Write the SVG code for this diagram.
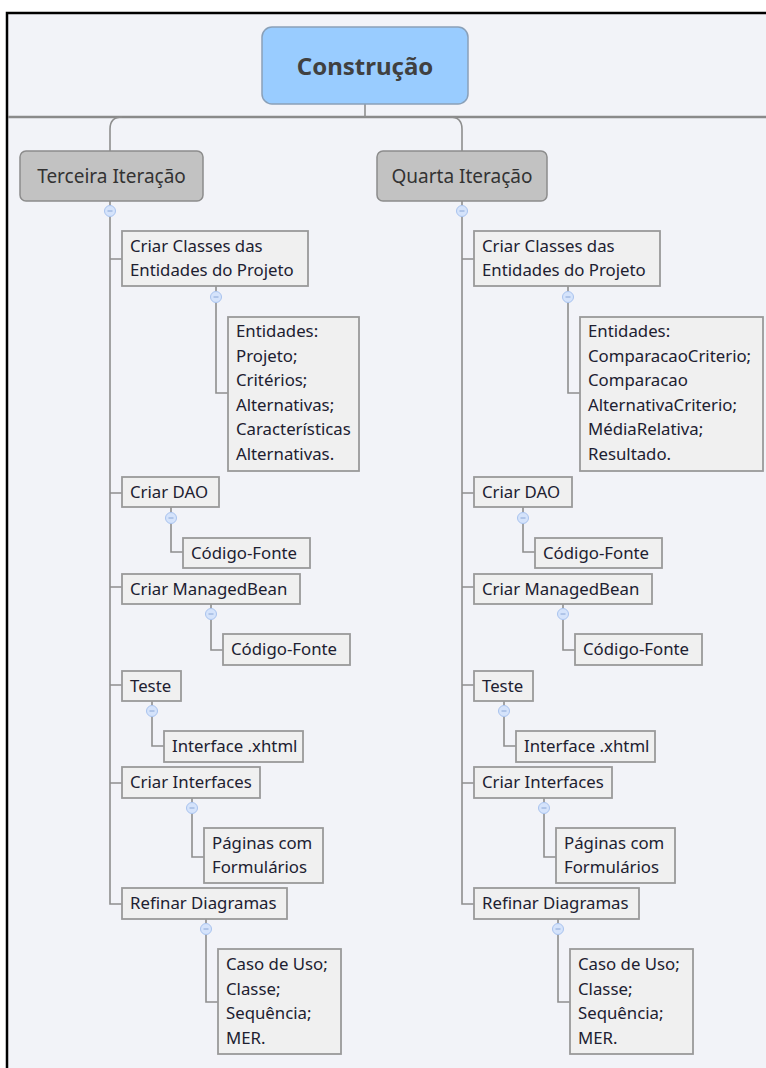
<svg xmlns="http://www.w3.org/2000/svg" xmlns:xlink="http://www.w3.org/1999/xlink" width="766" height="1068" viewBox="0 0 766 1068">
  <style>
    .canvas { fill: #f2f3f8; }
    .frame { fill: none; stroke: #000; stroke-width: 2.5; }
    .conn { fill: none; stroke: #8e8e8e; stroke-width: 1.6; }
    .band { fill: none; stroke: #8a8a8a; stroke-width: 2.4; }
    .root { fill: #99ccff; stroke: #8aa0b8; stroke-width: 1.5; }
    .iter { fill: #c2c2c2; stroke: #8c8c8c; stroke-width: 1.5; }
    .box { fill: #f0f0f0; stroke: #9a9a9a; stroke-width: 1.8; }
    .t { font-family: "Noto Sans", "Open Sans", sans-serif; font-size: 16.8px; fill: #202030; }
    .ti { font-family: "Noto Sans", "Open Sans", sans-serif; font-size: 19px; fill: #333; text-anchor: middle; }
    .tr { font-family: "Noto Sans", "Open Sans", sans-serif; font-size: 24px; font-weight: bold; fill: #404040; text-anchor: middle; }
  </style>
  <defs>
    <g id="toggle">
      <circle r="5.5" fill="#d5e3fb" stroke="#a9c3ef" stroke-width="1"/>
      <line x1="-2.5" y1="0" x2="2.5" y2="0" stroke="#8aa6d6" stroke-width="1"/>
    </g>
  </defs>

  <!-- background and frame -->
  <rect x="0" y="0" width="766" height="1068" fill="#fff"/>
  <rect class="canvas" x="7" y="13" width="759" height="1055"/>
  <path class="frame" d="M7,1068 V13 H766"/>

  <!-- connectors -->
  <g id="connectors">
    <path class="band" d="M8,117 H766"/>
    <path class="conn" d="M365,104 V117"/>
    <path class="conn" d="M122,117 Q110,117 110,129 V151"/>
    <path class="conn" d="M450,117 Q462,117 462,129 V151"/>

    <!-- left trunk -->
    <path class="conn" d="M110,201 V205.5"/>
    <path class="conn" d="M110,216.5 V904 H122"/>
    <path class="conn" d="M110,259 H122 M110,493 H122 M110,587 H122 M110,685 H122 M110,783 H122"/>
    <path class="conn" d="M216,286 V291.5 M216,302.5 V393 H228"/>
    <path class="conn" d="M171,507 V512.5 M171,523.5 V552 H183"/>
    <path class="conn" d="M211,604 V608.5 M211,619.5 V650 H223"/>
    <path class="conn" d="M152,701 V705.5 M152,716.5 V746 H164"/>
    <path class="conn" d="M192,798 V802.5 M192,813.5 V857 H204"/>
    <path class="conn" d="M206,919 V923.5 M206,934.5 V1002 H218"/>

    <!-- right trunk -->
    <path class="conn" d="M462,201 V205.5"/>
    <path class="conn" d="M462,216.5 V904 H474"/>
    <path class="conn" d="M462,259 H474 M462,493 H474 M462,587 H474 M462,685 H474 M462,783 H474"/>
    <path class="conn" d="M568,286 V291.5 M568,302.5 V393 H580"/>
    <path class="conn" d="M523,507 V512.5 M523,523.5 V552 H535"/>
    <path class="conn" d="M563,604 V608.5 M563,619.5 V650 H575"/>
    <path class="conn" d="M504,701 V705.5 M504,716.5 V746 H516"/>
    <path class="conn" d="M544,798 V802.5 M544,813.5 V857 H556"/>
    <path class="conn" d="M558,919 V923.5 M558,934.5 V1002 H570"/>

    <!-- collapse toggles -->
    <use xlink:href="#toggle" x="110" y="211"/>
    <use xlink:href="#toggle" x="462" y="211"/>
    <use xlink:href="#toggle" x="216" y="297"/>
    <use xlink:href="#toggle" x="568" y="297"/>
    <use xlink:href="#toggle" x="171" y="518"/>
    <use xlink:href="#toggle" x="523" y="518"/>
    <use xlink:href="#toggle" x="211" y="614"/>
    <use xlink:href="#toggle" x="563" y="614"/>
    <use xlink:href="#toggle" x="152" y="711"/>
    <use xlink:href="#toggle" x="504" y="711"/>
    <use xlink:href="#toggle" x="192" y="808"/>
    <use xlink:href="#toggle" x="544" y="808"/>
    <use xlink:href="#toggle" x="206" y="929"/>
    <use xlink:href="#toggle" x="558" y="929"/>
  </g>

  <!-- root -->
  <g id="n-construcao">
    <rect class="root" x="262" y="27" width="206" height="77" rx="10"/>
    <text class="tr" x="365" y="75">Construção</text>
  </g>

  <!-- third iteration -->
  <g id="n-terceira">
    <rect class="iter" x="20" y="151" width="183" height="50" rx="6"/>
    <text class="ti" x="111.5" y="183">Terceira Iteração</text>
  </g>
  <g id="n-t-classes">
    <rect class="box" x="122" y="231" width="186" height="55"/>
    <text class="t" x="130" y="252">Criar Classes das</text>
    <text class="t" x="130" y="276">Entidades do Projeto</text>
  </g>
  <g id="n-t-entidades">
    <rect class="box" x="228" y="317" width="131" height="154"/>
    <text class="t" x="236" y="337">Entidades:</text>
    <text class="t" x="236" y="361.5">Projeto;</text>
    <text class="t" x="236" y="386">Critérios;</text>
    <text class="t" x="236" y="410.5">Alternativas;</text>
    <text class="t" x="236" y="435">Características</text>
    <text class="t" x="236" y="459.5">Alternativas.</text>
  </g>
  <g id="n-t-dao">
    <rect class="box" x="122" y="477" width="97" height="30"/>
    <text class="t" x="130" y="497.5">Criar DAO</text>
  </g>
  <g id="n-t-dao-src">
    <rect class="box" x="183" y="538" width="127" height="30"/>
    <text class="t" x="191" y="558.5">Código-Fonte</text>
  </g>
  <g id="n-t-bean">
    <rect class="box" x="122" y="574" width="178" height="30"/>
    <text class="t" x="130" y="594.5">Criar ManagedBean</text>
  </g>
  <g id="n-t-bean-src">
    <rect class="box" x="223" y="634" width="127" height="31"/>
    <text class="t" x="231" y="655">Código-Fonte</text>
  </g>
  <g id="n-t-teste">
    <rect class="box" x="122" y="671" width="59" height="30"/>
    <text class="t" x="130" y="691.5">Teste</text>
  </g>
  <g id="n-t-xhtml">
    <rect class="box" x="164" y="731" width="139" height="31"/>
    <text class="t" x="172" y="752">Interface .xhtml</text>
  </g>
  <g id="n-t-interfaces">
    <rect class="box" x="122" y="767" width="138" height="31"/>
    <text class="t" x="130" y="788">Criar Interfaces</text>
  </g>
  <g id="n-t-paginas">
    <rect class="box" x="204" y="828" width="119" height="55"/>
    <text class="t" x="212" y="848.5">Páginas com</text>
    <text class="t" x="212" y="873">Formulários</text>
  </g>
  <g id="n-t-diagramas">
    <rect class="box" x="122" y="888" width="165" height="31"/>
    <text class="t" x="130" y="909">Refinar Diagramas</text>
  </g>
  <g id="n-t-casos">
    <rect class="box" x="218" y="949" width="123" height="105"/>
    <text class="t" x="226" y="970">Caso de Uso;</text>
    <text class="t" x="226" y="994.5">Classe;</text>
    <text class="t" x="226" y="1019">Sequência;</text>
    <text class="t" x="226" y="1043.5">MER.</text>
  </g>

  <!-- fourth iteration -->
  <g id="n-quarta">
    <rect class="iter" x="377" y="151" width="170" height="50" rx="6"/>
    <text class="ti" x="462" y="183">Quarta Iteração</text>
  </g>
  <g id="n-q-classes">
    <rect class="box" x="474" y="231" width="186" height="55"/>
    <text class="t" x="482" y="252">Criar Classes das</text>
    <text class="t" x="482" y="276">Entidades do Projeto</text>
  </g>
  <g id="n-q-entidades">
    <rect class="box" x="580" y="317" width="183" height="154"/>
    <text class="t" x="588" y="337">Entidades:</text>
    <text class="t" x="588" y="361.5">ComparacaoCriterio;</text>
    <text class="t" x="588" y="386">Comparacao</text>
    <text class="t" x="588" y="410.5">AlternativaCriterio;</text>
    <text class="t" x="588" y="435">MédiaRelativa;</text>
    <text class="t" x="588" y="459.5">Resultado.</text>
  </g>
  <g id="n-q-dao">
    <rect class="box" x="474" y="477" width="98" height="30"/>
    <text class="t" x="482" y="497.5">Criar DAO</text>
  </g>
  <g id="n-q-dao-src">
    <rect class="box" x="535" y="538" width="127" height="30"/>
    <text class="t" x="543" y="558.5">Código-Fonte</text>
  </g>
  <g id="n-q-bean">
    <rect class="box" x="474" y="574" width="178" height="30"/>
    <text class="t" x="482" y="594.5">Criar ManagedBean</text>
  </g>
  <g id="n-q-bean-src">
    <rect class="box" x="575" y="634" width="127" height="31"/>
    <text class="t" x="583" y="655">Código-Fonte</text>
  </g>
  <g id="n-q-teste">
    <rect class="box" x="474" y="671" width="59" height="30"/>
    <text class="t" x="482" y="691.5">Teste</text>
  </g>
  <g id="n-q-xhtml">
    <rect class="box" x="516" y="731" width="139" height="31"/>
    <text class="t" x="524" y="752">Interface .xhtml</text>
  </g>
  <g id="n-q-interfaces">
    <rect class="box" x="474" y="767" width="138" height="31"/>
    <text class="t" x="482" y="788">Criar Interfaces</text>
  </g>
  <g id="n-q-paginas">
    <rect class="box" x="556" y="828" width="119" height="55"/>
    <text class="t" x="564" y="848.5">Páginas com</text>
    <text class="t" x="564" y="873">Formulários</text>
  </g>
  <g id="n-q-diagramas">
    <rect class="box" x="474" y="888" width="165" height="31"/>
    <text class="t" x="482" y="909">Refinar Diagramas</text>
  </g>
  <g id="n-q-casos">
    <rect class="box" x="570" y="949" width="123" height="105"/>
    <text class="t" x="578" y="970">Caso de Uso;</text>
    <text class="t" x="578" y="994.5">Classe;</text>
    <text class="t" x="578" y="1019">Sequência;</text>
    <text class="t" x="578" y="1043.5">MER.</text>
  </g>
</svg>
